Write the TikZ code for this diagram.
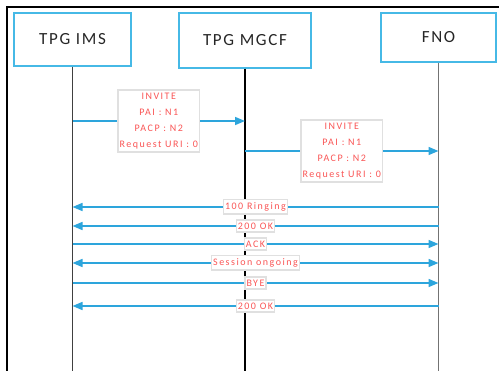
\documentclass[tikz,border=0pt]{standalone}
\usepackage{fontspec}
\setmainfont{Carlito}
\newfontfamily\headfont[LetterSpace=10]{Carlito}
\newfontfamily\msgfont[LetterSpace=15]{Carlito}
\usetikzlibrary{arrows.meta,positioning}
\definecolor{boxblue}{RGB}{70,185,230}
\definecolor{msgblue}{RGB}{45,165,220}
\definecolor{msgred}{RGB}{250,85,85}
\tikzset{
  % heads of the lifelines
  entity/.style={draw=boxblue,line width=1.3pt,fill=white,text=black!85,
    font=\headfont\fontsize{17}{19}\selectfont,inner sep=0pt},
  lifeline/.style={line width=1.1pt},
  % messages between lifelines
  msg/.style={draw=msgblue,line width=1.6pt,-{Triangle[length=10pt,width=8pt]}},
  msglabel/.style={draw=black!12,fill=white,text=msgred,align=center,
    font=\msgfont\fontsize{10}{16}\selectfont,inner xsep=1.5pt,inner ysep=3pt},
}

\begin{document}
\begin{tikzpicture}[x=1pt,y=-1pt]
  \useasboundingbox (0,0) rectangle (499,371);
  \draw[line width=1.5pt] (7,371) -- (7,7) -- (499,7);

  \node[entity,minimum width=117pt,minimum height=53pt] (ims) at (72.5,39.5) {TPG IMS};
  \node[entity,minimum width=132pt,minimum height=55pt] (mgcf) at (245,40.5) {TPG MGCF};
  \node[entity,minimum width=115pt,minimum height=49pt] (fno) at (438.5,37.5) {FNO};
  \coordinate (end) at (0,371);

  \draw[lifeline,black!75] (ims) -- (ims |- end);
  \draw[lifeline,black] (mgcf) -- (mgcf |- end);
  \draw[lifeline,black!55] (fno) -- (fno |- end);

  \draw[msg] (ims |- 0,121) -- node[msglabel]
    {INVITE\\PAI : N1\\PACP : N2\\Request URI : 0} (mgcf |- 0,121);
  \draw[msg] (mgcf |- 0,151) -- node[msglabel]
    {INVITE\\PAI : N1\\PACP : N2\\Request URI : 0} (fno |- 0,151);

  \foreach \y/\a/\b/\txt in {207/fno/ims/100 Ringing,
                             226/fno/ims/200 OK,
                             244/ims/fno/ACK,
                             283/ims/fno/BYE,
                             306/fno/ims/200 OK}
    \draw[msg] (\a |- 0,\y) -- node[msglabel] {\txt} (\b |- 0,\y);
  \draw[msg,{Triangle[length=10pt,width=8pt]}-{Triangle[length=10pt,width=8pt]}]
    (ims |- 0,263) -- node[msglabel] {Session ongoing} (fno |- 0,263);
\end{tikzpicture}
\end{document}
